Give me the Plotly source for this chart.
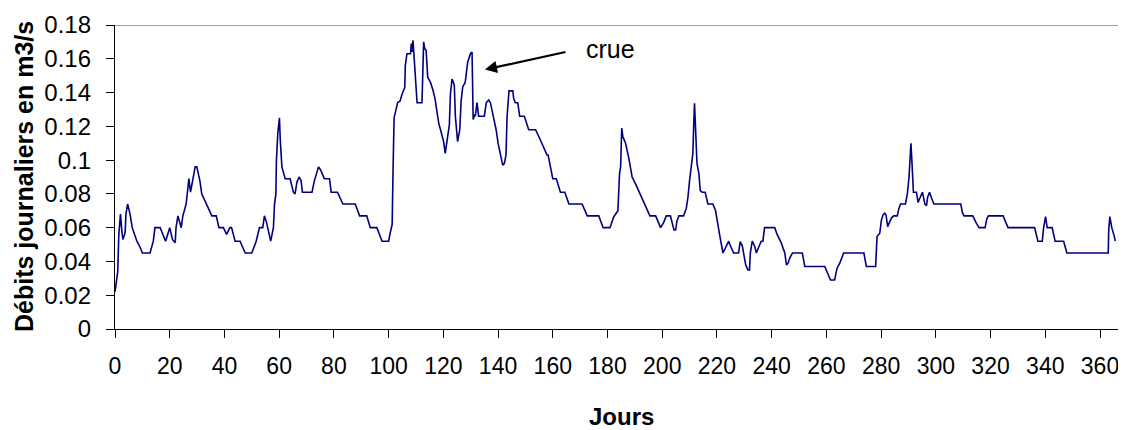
import plotly.graph_objects as go

# Daily discharge (m3/s): day index and value at each break point
days = [0, 1.0, 1.4, 2.0, 2.5, 2.9, 3.7, 4.0, 4.6, 5.5, 6.3, 7.0, 8.0, 9.0, 10.0, 12.8, 14.0, 14.6,
        16.5, 18.5, 20.0, 21.0, 22.0, 22.3, 23.0, 24.2, 24.8, 26.0, 26.5, 27.0, 27.6, 28.4, 29.3,
        29.9, 31.0, 31.7, 33.3, 34.5, 35.4, 37.0, 38.0, 39.6, 40.8, 42.0, 42.6, 43.9, 45.7, 47.6,
        50.0, 51.6, 52.8, 54.0, 54.6, 55.4, 56.4, 56.9, 57.9, 58.3, 58.8, 59.0, 59.5, 60.1, 60.4,
        61.0, 62.2, 64.0, 65.2, 65.8, 66.5, 67.3, 68.0, 68.5, 72.0, 72.9, 74.4, 75.2, 76.5, 78.4,
        79.0, 81.3, 83.3, 87.8, 89.4, 92.0, 93.3, 95.7, 97.6, 100.0, 100.6, 101.3, 101.6, 102.0,
        103.3, 104.2, 104.9, 105.9, 106.1, 106.7, 108.0, 108.3, 108.6, 108.9, 109.4, 109.8, 110.4,
        112.2, 112.4, 112.8, 113.2, 113.7, 114.3, 115.3, 116.2, 117.0, 118.3, 119.1, 120.1, 120.7,
        121.3, 122.2, 122.6, 123.2, 124.0, 124.4, 125.2, 126.0, 126.5, 127.1, 128.0, 128.9, 129.9,
        130.5, 130.9, 131.5, 131.7, 132.3, 132.9, 135.0, 135.7, 136.6, 137.2, 138.2, 139.3, 140.0,
        140.9, 141.7, 142.3, 142.9, 143.3, 144.0, 145.4, 145.7, 146.3, 147.2, 147.9, 149.6, 151.2,
        153.7, 154.9, 156.7, 157.9, 158.3, 159.1, 160.0, 161.3, 162.8, 164.4, 165.9, 170.7, 172.6,
        176.8, 178.4, 180.9, 182.3, 183.8, 184.4, 184.8, 185.2, 185.6, 186.6, 187.8, 189.0, 190.5,
        192.7, 194.5, 195.5, 197.6, 199.4, 200.5, 201.5, 203.0, 203.7, 204.3, 204.9, 205.4, 206.1,
        207.8, 208.8, 209.4, 210.0, 210.6, 211.2, 211.5, 211.8, 212.2, 212.4, 212.7, 213.4, 213.9,
        214.6, 215.7, 216.7, 218.5, 219.5, 220.4, 221.0, 222.2, 223.1, 224.3, 225.0, 226.1, 227.9,
        228.5, 229.3, 229.9, 230.5, 231.3, 231.9, 232.2, 232.9, 233.8, 234.4, 235.4, 236.2, 236.8,
        237.4, 241.1, 242.0, 243.5, 244.8, 245.4, 246.0, 246.6, 247.6, 251.2, 252.1, 259.4, 260.6,
        261.5, 263.0, 263.9, 264.9, 266.3, 273.7, 274.6, 278.0, 278.5, 279.5, 280.1, 280.7, 281.3,
        281.8, 282.4, 283.0, 283.9, 284.6, 285.9, 286.5, 287.1, 288.9, 289.6, 290.2, 290.9, 291.3,
        291.8, 292.9, 293.5, 294.3, 295.1, 296.0, 296.6, 297.0, 297.7, 298.3, 299.3, 309.1, 309.7,
        310.3, 313.5, 314.7, 315.8, 318.0, 318.6, 319.2, 324.6, 325.6, 326.4, 336.1, 336.7, 337.3,
        338.9, 339.4, 340.1, 340.7, 342.5, 343.0, 343.6, 346.7, 347.3, 347.9, 363.0, 363.2, 363.6,
        364.3, 365.2, 365.6]

debits = [0.022, 0.034, 0.056, 0.068, 0.058, 0.053, 0.057, 0.068, 0.074, 0.068, 0.060, 0.057, 0.052,
          0.049, 0.045, 0.045, 0.052, 0.060, 0.060, 0.052, 0.060, 0.053, 0.051, 0.060, 0.067, 0.060,
          0.067, 0.074, 0.080, 0.089, 0.081, 0.089, 0.096, 0.096, 0.088, 0.080, 0.074, 0.070, 0.067,
          0.067, 0.060, 0.060, 0.056, 0.060, 0.060, 0.052, 0.052, 0.045, 0.045, 0.052, 0.060, 0.060,
          0.067, 0.063, 0.054, 0.052, 0.060, 0.074, 0.080, 0.100, 0.116, 0.125, 0.112, 0.096, 0.089,
          0.089, 0.081, 0.080, 0.087, 0.090, 0.088, 0.081, 0.081, 0.088, 0.096, 0.094, 0.089, 0.089,
          0.081, 0.081, 0.074, 0.074, 0.067, 0.067, 0.060, 0.060, 0.052, 0.052, 0.057, 0.062, 0.092,
          0.125, 0.134, 0.135, 0.139, 0.143, 0.156, 0.163, 0.163, 0.169, 0.164, 0.171, 0.159, 0.149,
          0.134, 0.134, 0.153, 0.170, 0.166, 0.165, 0.149, 0.146, 0.1415, 0.136, 0.122, 0.117, 0.111,
          0.104, 0.112, 0.121, 0.1395, 0.148, 0.1445, 0.126, 0.111, 0.118, 0.135, 0.1435, 0.146, 0.158,
          0.163, 0.164, 0.124, 0.127, 0.126, 0.134, 0.126, 0.126, 0.134, 0.1356, 0.134, 0.126, 0.118,
          0.110, 0.103, 0.097, 0.098, 0.103, 0.126, 0.141, 0.141, 0.1366, 0.134, 0.134, 0.126, 0.126,
          0.118, 0.118, 0.114, 0.108, 0.103, 0.103, 0.096, 0.089, 0.089, 0.081, 0.081, 0.074, 0.074,
          0.067, 0.067, 0.060, 0.060, 0.0665, 0.070, 0.092, 0.096, 0.119, 0.114, 0.110, 0.101, 0.090,
          0.085, 0.077, 0.070, 0.067, 0.067, 0.060, 0.063, 0.067, 0.067, 0.063, 0.0586, 0.0586, 0.064,
          0.067, 0.067, 0.0714, 0.078, 0.088, 0.096, 0.104, 0.120, 0.1336, 0.118, 0.110, 0.098, 0.092,
          0.082, 0.081, 0.081, 0.074, 0.074, 0.070, 0.0626, 0.0556, 0.045, 0.048, 0.052, 0.049, 0.045,
          0.045, 0.0517, 0.049, 0.042, 0.038, 0.035, 0.035, 0.045, 0.052, 0.049, 0.045, 0.049, 0.052,
          0.052, 0.060, 0.060, 0.056, 0.051, 0.045, 0.038, 0.039, 0.042, 0.045, 0.045, 0.037, 0.037,
          0.033, 0.029, 0.029, 0.036, 0.039, 0.045, 0.045, 0.037, 0.037, 0.0547, 0.0567, 0.0645, 0.0675,
          0.0685, 0.0675, 0.0606, 0.063, 0.066, 0.067, 0.067, 0.0714, 0.074, 0.074, 0.080, 0.090, 0.110,
          0.098, 0.081, 0.081, 0.075, 0.078, 0.081, 0.074, 0.073, 0.078, 0.081, 0.078, 0.074, 0.074,
          0.069, 0.067, 0.067, 0.063, 0.060, 0.060, 0.065, 0.067, 0.067, 0.063, 0.060, 0.060, 0.055,
          0.052, 0.052, 0.060, 0.0665, 0.060, 0.060, 0.056, 0.052, 0.052, 0.048, 0.045, 0.045, 0.059,
          0.0665, 0.060, 0.055, 0.052]

x_tick_vals = list(range(0, 361, 20))
y_tick_vals = [0, 0.02, 0.04, 0.06, 0.08, 0.1, 0.12, 0.14, 0.16, 0.18]
y_tick_text = ["0", "0.02", "0.04", "0.06", "0.08", "0.1", "0.12", "0.14", "0.16", "0.18"]

FONT = "Liberation Sans, Arial, sans-serif"

# the page body has an 8px margin, so the figure is 8px smaller and the margins shifted
fig = go.Figure()
fig.add_trace(go.Scatter(x=days, y=debits, mode="lines",
                         line=dict(color="#000080", width=1.6), hoverinfo="skip"))

fig.update_layout(
    width=1118, height=422,
    margin=dict(l=107, r=0, t=17, b=101),
    paper_bgcolor="white", plot_bgcolor="white",
    showlegend=False,
    font=dict(family=FONT, color="black", size=24),
    xaxis=dict(range=[0, 369.5], tickvals=x_tick_vals, showgrid=False, zeroline=False,
               showline=True, linecolor="black", linewidth=1.3,
               ticks="outside", ticklen=8, tickwidth=1.3, tickcolor="black",
               tickfont=dict(size=23), ticklabelstandoff=8),
    yaxis=dict(range=[0, 0.18], tickvals=y_tick_vals, ticktext=y_tick_text,
               showgrid=False, zeroline=False,
               showline=True, linecolor="black", linewidth=1.3,
               ticks="outside", ticklen=8, tickwidth=1.3, tickcolor="black",
               tickfont=dict(size=24), ticklabelstandoff=10),
    shapes=[dict(type="line", xref="paper", yref="y", x0=0, x1=1, y0=0.18, y1=0.18,
                 line=dict(color="#808080", width=1.5))],
    annotations=[
        dict(xref="paper", yref="paper", x=(24 - 115) / 1011, y=0.5, text="<b>Débits journaliers en m3/s</b>",
             textangle=-90, showarrow=False, font=dict(size=25), xanchor="center", yanchor="middle"),
        dict(xref="paper", yref="paper", x=(621 - 115) / 1011, y=(329 - 416) / 304, text="<b>Jours</b>",
             showarrow=False, font=dict(size=24), xanchor="center", yanchor="middle"),
        dict(x=135.2, y=0.1536, xref="x", yref="y", ax=165.2, ay=0.1642, axref="x", ayref="y",
             text="", showarrow=True, arrowhead=2, arrowsize=1.1, arrowwidth=2.2, arrowcolor="black"),
        dict(x=171.5, y=0.166, xref="x", yref="y", text="crue", showarrow=False,
             font=dict(size=25), xanchor="left", yanchor="middle"),
    ],
)

fig.write_html("out.html")
